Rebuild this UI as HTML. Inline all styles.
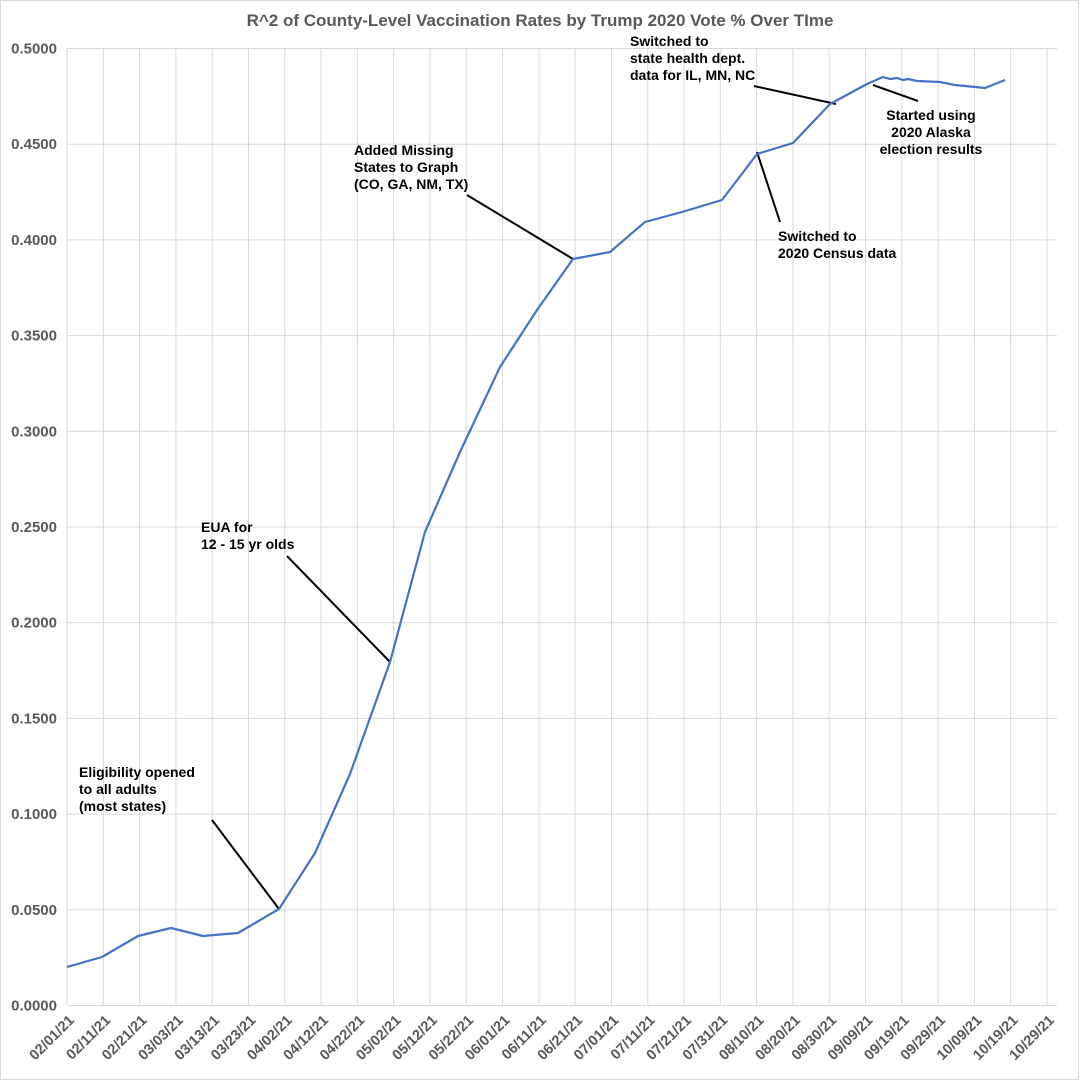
<!DOCTYPE html>
<html><head><meta charset="utf-8"><style>
html,body{margin:0;padding:0;background:#fff;}
text{font-family:"Liberation Sans",sans-serif;}
</style></head><body>
<svg width="1081" height="1081" xmlns="http://www.w3.org/2000/svg">
<rect x="0.5" y="0.5" width="1078" height="1079" fill="#fff" stroke="#d9d9d9"/>
<text x="540" y="26" text-anchor="middle" font-size="17" font-weight="bold" fill="#595959">R^2 of County-Level Vaccination Rates by Trump 2020 Vote % Over TIme</text>
<g stroke="#d9d9d9" stroke-width="1">
<line x1="67" y1="48.5" x2="1057" y2="48.5"/><line x1="67" y1="144.2" x2="1057" y2="144.2"/><line x1="67" y1="239.9" x2="1057" y2="239.9"/><line x1="67" y1="335.6" x2="1057" y2="335.6"/><line x1="67" y1="431.3" x2="1057" y2="431.3"/><line x1="67" y1="527" x2="1057" y2="527"/><line x1="67" y1="622.7" x2="1057" y2="622.7"/><line x1="67" y1="718.4" x2="1057" y2="718.4"/><line x1="67" y1="814.1" x2="1057" y2="814.1"/><line x1="67" y1="909.8" x2="1057" y2="909.8"/><line x1="67" y1="1005.5" x2="1057" y2="1005.5"/>
</g>
<g id="vg" stroke="#d9d9d9" stroke-width="1"></g>
<g id="yl" font-size="15" font-weight="bold" fill="#595959" text-anchor="end"></g>
<g id="xl" font-size="14.5" font-weight="bold" fill="#595959" text-anchor="end"></g>
<g stroke="#000" stroke-width="2" fill="none">
<line x1="212" y1="820" x2="279" y2="909"/>
<line x1="287" y1="556" x2="390" y2="662"/>
<line x1="467" y1="195" x2="573" y2="259"/>
<line x1="757" y1="152" x2="780" y2="222"/>
<line x1="754" y1="86" x2="836" y2="104"/>
<line x1="873" y1="85" x2="918" y2="101"/>
</g>
<polyline fill="none" stroke="#4472c4" stroke-width="2.2" stroke-linejoin="round" points="67,967 102,957 138,936 171,928 203,936 238,933 279,909 315,853 350,774 390,662 425,532 460,452 500,367 537,310 573,259 610,252 645,222 682,212 722,200 757,154 793,143 830,104 867,84 883,77 890,79 897,78 903,80 908,79 917,81 940,82 955,85 985,88 1005,80"/>
<g font-size="14" font-weight="bold" fill="#000">
<text x="79" y="777">Eligibility opened</text><text x="79" y="794">to all adults</text><text x="79" y="811">(most states)</text>
<text x="201" y="532">EUA for</text><text x="201" y="549">12 - 15 yr olds</text>
<text x="354" y="155">Added Missing</text><text x="354" y="172">States to Graph</text><text x="354" y="189">(CO, GA, NM, TX)</text>
<text x="630" y="46">Switched to</text><text x="630" y="63">state health dept.</text><text x="630" y="80">data for IL, MN, NC</text>
<text x="778" y="241">Switched to</text><text x="778" y="258">2020 Census data</text>
<text x="931" y="120" text-anchor="middle">Started using</text><text x="931" y="137" text-anchor="middle">2020 Alaska</text><text x="931" y="154" text-anchor="middle">election results</text>
</g>
</svg>
<script>
const ns="http://www.w3.org/2000/svg";
const labs=["02/01/21","02/11/21","02/21/21","03/03/21","03/13/21","03/23/21","04/02/21","04/12/21","04/22/21","05/02/21","05/12/21","05/22/21","06/01/21","06/11/21","06/21/21","07/01/21","07/11/21","07/21/21","07/31/21","08/10/21","08/20/21","08/30/21","09/09/21","09/19/21","09/29/21","10/09/21","10/19/21","10/29/21"];
const vg=document.getElementById("vg"),xl=document.getElementById("xl"),yl=document.getElementById("yl");
labs.forEach((l,i)=>{const x=67+i*980/27;
const ln=document.createElementNS(ns,"line");ln.setAttribute("x1",x);ln.setAttribute("x2",x);ln.setAttribute("y1",48);ln.setAttribute("y2",1005);vg.appendChild(ln);
const t=document.createElementNS(ns,"text");t.setAttribute("transform",`translate(${x+8},${1021}) rotate(-45)`);t.textContent=l;xl.appendChild(t);});
for(let i=0;i<=10;i++){const y=1005.5-i*95.7;const t=document.createElementNS(ns,"text");t.setAttribute("x",57);t.setAttribute("y",y+5);t.textContent=(i*0.05).toFixed(4);yl.appendChild(t);}
</script>
</body></html>
